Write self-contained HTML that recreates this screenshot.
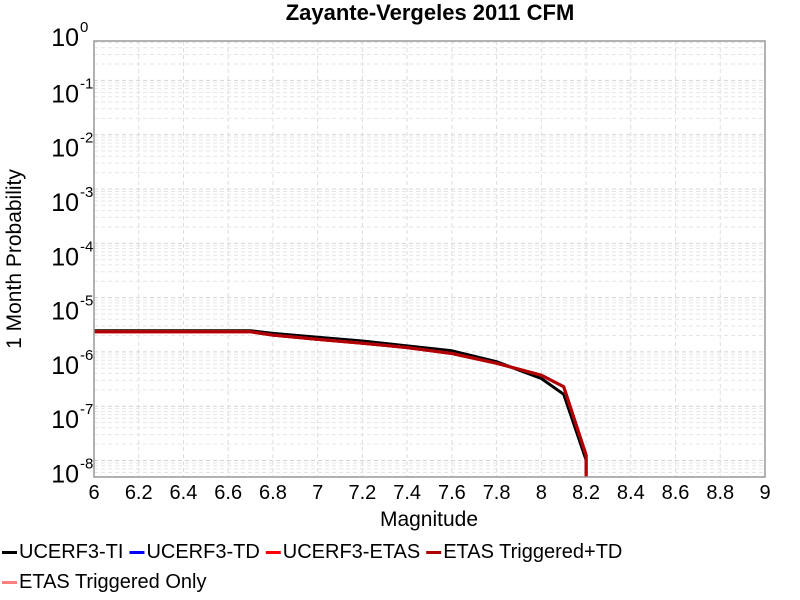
<!DOCTYPE html>
<html><head><meta charset="utf-8"><style>
html,body{margin:0;background:#fff;overflow:hidden;width:800px;height:600px;position:relative}
svg{display:block;position:absolute;left:0;top:0;overflow:hidden;font-family:"Liberation Sans",sans-serif}
</style></head><body>
<svg id="chart" width="800" height="600">
<rect width="800" height="600" fill="#fff"/>
<text x="430" y="20" text-anchor="middle" font-size="22" font-weight="bold">Zayante-Vergeles 2011 CFM</text>
<g id="grid"></g>
<g id="series"></g>
<rect x="94" y="41" width="671" height="436" fill="none" stroke="#999" stroke-width="1.5"/>
<g id="xticks"></g>
<g id="yticks"></g>
<text x="429" y="526" text-anchor="middle" font-size="21">Magnitude</text>
<text transform="translate(21,259) rotate(-90)" text-anchor="middle" font-size="21">1 Month Probability</text>
<g id="legend"></g>
</svg>
<script>
const mags=[6,6.1,6.2,6.3,6.4,6.5,6.6,6.7,6.8,7.0,7.2,7.4,7.6,7.8,8.0,8.1,8.2,8.2];
const tiLog=[-5.61,-5.61,-5.61,-5.61,-5.61,-5.61,-5.61,-5.61,-5.66,-5.73,-5.80,-5.89,-5.98,-6.18,-6.49,-6.78,-7.99,-12];
const etasLog=[-5.63,-5.63,-5.63,-5.63,-5.63,-5.63,-5.63,-5.63,-5.69,-5.77,-5.84,-5.92,-6.03,-6.21,-6.43,-6.64,-7.90,-12];
const xTicks=[6,6.2,6.4,6.6,6.8,7,7.2,7.4,7.6,7.8,8,8.2,8.4,8.6,8.8,9];
const yDecades=[0,-1,-2,-3,-4,-5,-6,-7,-8];
const legendNames=["UCERF3-TI","UCERF3-TD","UCERF3-ETAS","ETAS Triggered+TD","ETAS Triggered Only"];
const legendColors=["#000","#0000ff","#ff0000","#b00000","#ff7f7f"];

const NS="http://www.w3.org/2000/svg";
const L=94,R=765,T=41,B=477;
const xs=m=>L+(m-6)/3*(R-L);
const ys=lg=>460.5+(-8-lg)*54.3;
function mk(tag,attrs,parent){const e=document.createElementNS(NS,tag);for(const k in attrs)e.setAttribute(k,attrs[k]);parent.appendChild(e);return e;}
const grid=document.getElementById('grid');
xTicks.forEach(t=>{const x=xs(t);
 const l=mk('line',{x1:x,x2:x,y1:T,y2:B,stroke:'#ddd','stroke-dasharray':'4,3'},grid);
 
 
 const tx=mk('text',{x:x,y:499,'text-anchor':'middle','font-size':20},document.getElementById('xticks'));
 tx.textContent=String(t);
 
 
});
for(let d=1;d>=-9;d--){for(let k=1;k<10;k++){const y=ys(d+Math.log10(k)-1);if(y<T||y>B)continue;
 const l=mk('line',{x1:L,x2:R,y1:y,y2:y,stroke:k==1?'#d4d4d4':'#e6e6e6','stroke-dasharray':'4,3'},grid);
 
 }}
const yt=document.getElementById('yticks');
yDecades.forEach(d=>{let y=ys(d)+22;if(d==0)y=46;
 const tx=mk('text',{x:79,y:y,'text-anchor':'end','font-size':25},yt);
 tx.textContent='10';
 
 
 const sp=mk('text',{x:80,y:y-14,'font-size':15},yt);
 sp.textContent=String(d);
 
 
});
const sg=document.getElementById('series');
const cp=mk('clipPath',{id:'clip'},sg);
mk('rect',{x:L,y:T,width:R-L,height:B-T},cp);
function line(vals,color,name){const p=mags.map((m,i)=>xs(m).toFixed(1)+','+ys(vals[i]).toFixed(1)).join(' ');
 const e=mk('polyline',{points:p,fill:'none',stroke:color,'stroke-width':3,'clip-path':'url(#clip)','stroke-linejoin':'round'},sg);
 
 }
line(tiLog,'#000','series-ucerf3-ti');
line(etasLog,'#0000ff','series-ucerf3-td');
line(etasLog,'#ff7f7f','series-etas-triggered-only');
line(etasLog,'#ff0000','series-ucerf3-etas');
line(etasLog,'#b00000','series-etas-triggered-td');
const lg=document.getElementById('legend');
let lx=2;
legendNames.forEach((n,i)=>{let y=551;if(i==4){lx=2;y=581;}
 const s=mk('rect',{x:lx,y:y,width:15,height:3,fill:legendColors[i]},lg);
 
 
 const t=mk('text',{x:lx+17,y:y+7,'font-size':20},lg);
 t.textContent=n;
 
 
 lx+=17+t.getComputedTextLength()+6;
});
</script>
</body></html>
